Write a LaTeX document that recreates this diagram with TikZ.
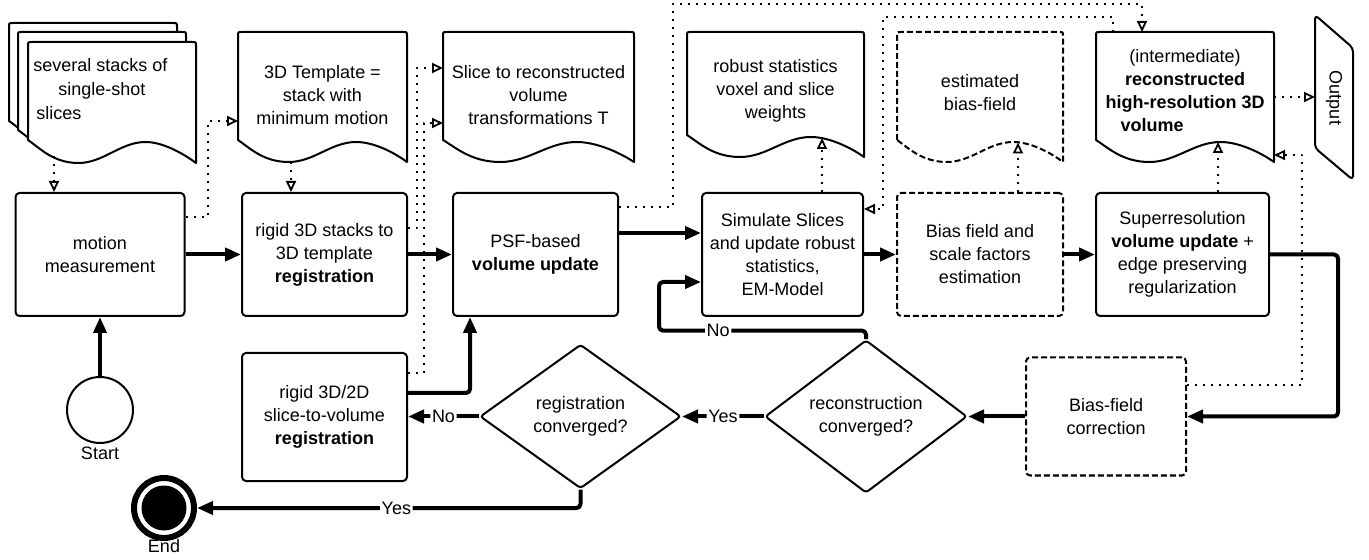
\documentclass[tikz,border=0pt]{standalone}
\usepackage{fontspec}
\setmainfont{Liberation Sans}
\usetikzlibrary{arrows.meta,shapes.geometric,calc}
% #1 options, #2 left, #3 top, #4 right, #5 bottom-left y, #6 bottom-right y
\newcommand\docshape[6][]{%
  \draw[docline,#1] (#2,#5) -- (#2,{#3+4}) .. controls (#2,#3) .. ({#2+4},#3)
    -- ({#4-4},#3) .. controls (#4,#3) .. (#4,{#3+4}) -- (#4,#6)
    .. controls ({#4-0.08*(#4-#2)},{#6-10}) and ({#2+0.8*(#4-#2)},{#5+2}) .. ({#2+0.7*(#4-#2)},{#5+2})
    .. controls ({#2+0.55*(#4-#2)},{#5+2}) and ({#2+0.45*(#4-#2)},#6) .. ({#2+0.3*(#4-#2)},#6)
    .. controls ({#2+0.15*(#4-#2)},#6) and ({#2+0.07*(#4-#2)},{#5+8}) .. (#2,#5) -- cycle;}
\begin{document}
\begin{tikzpicture}[x=0.5pt,y=-0.5pt,
  font=\fontsize{9}{11.5}\selectfont,
  line join=round,
  proc/.style={draw, line width=1pt, rounded corners=2pt, align=center, inner sep=1pt, fill=white},
  dproc/.style={proc, dash pattern=on 3pt off 1.5pt},
  dec/.style={diamond, draw, line width=1pt, rounded corners=1.5pt, align=center, inner sep=0pt},
  txt/.style={align=center, inner sep=0pt},
  ltxt/.style={anchor=base west, inner sep=0pt},
  thickarr/.style={line width=2pt, rounded corners=2pt, -{Triangle[length=8pt,width=6.5pt]}},
  dotarr/.style={line width=1pt, dash pattern=on 1pt off 3pt, -{Triangle[open,length=5.5pt,width=5pt,line width=0.9pt]}},
  lab/.style={fill=white, inner sep=0.8pt},
  docline/.style={draw, line width=1pt, fill=white}]
\useasboundingbox (0,0) rectangle (1369,560);

% ---------- documents ----------
\docshape{9}{23}{177}{121}{144}
\docshape{18}{32}{186}{130}{153}
\docshape{28}{42}{196}{140}{163}
\node[ltxt] (stk1) at (33,72) {several stacks of};
\node[ltxt] (stk2) at (58,96) {single-shot};
\node[ltxt] (stk3) at (36,120) {slices};

\docshape{238}{32}{407}{140}{162}
\node[txt] (tmplT) at (322.5,95.5) {3D Template =\\stack with\\minimum motion};

\docshape{443}{32}{634}{140}{162}
\node[txt] (slcT) at (538.5,95.5) {Slice to reconstructed\\volume\\transformations T};

\docshape{687}{32}{864}{135}{157}
\node[txt] (robT) at (775.5,90.5) {robust statistics\\voxel and slice\\weights};

\docshape[dash pattern=on 3pt off 1.5pt]{897}{32}{1063}{140}{162}
\node[txt] (estT) at (980,93) {estimated\\bias-field};

\docshape{1096}{32}{1274}{140}{162}
\node[txt] (recT) at (1185,90.5) {(intermediate)\\\textbf{reconstructed}\\\textbf{high-resolution 3D}\\\textbf{volume}\hspace*{33pt}};

% output
\node[txt, rotate=-90] (outp) at (1334,98) {Output};
\draw[line width=1pt, rounded corners=2pt] (1315,15) -- (1353,48) -- (1353,180) -- (1315,148) -- cycle;

% ---------- process boxes ----------
\node[proc, minimum width=84.5pt, minimum height=61.5pt] (motion) at (100,254.5) {motion\\measurement};
\node[proc, minimum width=82.5pt, minimum height=61.5pt] (reg) at (324.5,254.5) {rigid 3D stacks to\\3D template\\\textbf{registration}};
\node[proc, minimum width=82.5pt, minimum height=61.5pt] (psf) at (535.5,254.5) {PSF-based\\\textbf{volume update}};
\node[proc, minimum width=80.5pt, minimum height=61.5pt] (sim) at (782.5,254.5) {Simulate Slices\\and update robust\\statistics,\\EM-Model};
\node[dproc, minimum width=83pt, minimum height=61.5pt] (est) at (980,254.5) {Bias field and\\scale factors\\estimation};
\node[proc, minimum width=86.5pt, minimum height=61.5pt] (sup) at (1182.5,254.5) {Superresolution\\\textbf{volume update} +\\edge preserving\\regularization};

\node[proc, minimum width=82.5pt, minimum height=64pt] (rigid2) at (324.5,417) {rigid 3D/2D\\slice-to-volume\\\textbf{registration}};
\node[dproc, minimum width=80pt, minimum height=59pt] (bc) at (1106,416.5) {Bias-field\\correction};

\node[dec, minimum width=100.5pt, minimum height=72pt] (regcv) at (580.5,416.5) {registration\\converged?};
\node[dec, minimum width=101pt, minimum height=73pt] (reccv) at (866,416.5) {reconstruction\\converged?};

% start / end
\node[circle, draw, line width=1pt, minimum size=33pt, inner sep=0pt, fill=white] (start) at (100,410) {};
\node[anchor=north, inner sep=0pt] (startL) at (100,447) {Start};
\node[circle, draw, line width=3pt, minimum size=30pt, inner sep=0pt, fill=white] (end) at (164,508) {};
\fill (end.center) circle (11.25pt);
\node[anchor=north, inner sep=0pt] (endL) at (164,539) {End};

% ---------- coordinates for free ends ----------
\coordinate (stkB) at (54,156);
\coordinate (tmplIn) at (238,121);
\coordinate (tmplB) at (291,162);
\coordinate (slcIn1) at (443,68);
\coordinate (slcIn2) at (443,123);
\coordinate (recT1) at (1142,32);
\coordinate (recT2) at (1113,32);
\coordinate (robB) at (822,138);
\coordinate (estB) at (1018,142.5);
\coordinate (recB) at (1218,142);
\coordinate (recR) at (1274,97);
\coordinate (outL) at (1315,97);
\coordinate (recR2) at (1274,155);

% ---------- thick connectors ----------
\draw[thickarr] (start.north) -- (motion.south);
\draw[thickarr] (motion.east) -- (reg.west);
\draw[thickarr] (reg.east) -- (psf.west);
\draw[thickarr] ($(psf.east)+(0,-21.5)$) -- ($(sim.west)+(0,-21.5)$);
\draw[thickarr] (sim.east) -- (est.west);
\draw[thickarr] (est.east) -- (sup.west);
\draw[thickarr] (sup.east) -| ($(bc.east)+(151,0)$) -- (bc.east);
\draw[thickarr] (bc.west) -- (reccv.east);
\draw[thickarr] (reccv.west) -- node[lab] {Yes} (regcv.east);
\draw[thickarr] (reccv.north) -- ($(reccv.north)+(0,-8.5)$) -| node[lab, pos=0.357] {No} ($(sim.west)+(-42,27.5)$) -- ($(sim.west)+(0,27.5)$);
\draw[thickarr] (regcv.west) -- node[lab] {No} (regcv.west -| rigid2.east);
\draw[thickarr] ($(rigid2.east)+(0,-24)$) -| ($(psf.south)+(-65.5,0)$);
\draw[thickarr] (regcv.south) |- node[lab, pos=0.74] {Yes} (end.east);

% ---------- dotted connectors ----------
\draw[dotarr] (stkB) -- (stkB |- motion.north);
\draw[dotarr] ($(motion.east)+(0,-37.5)$) -| ($(tmplIn)+(-30,0)$) -- (tmplIn);
\draw[dotarr] (tmplB) -- (tmplB |- reg.north);
\draw[dotarr] ($(reg.east)+(0,-26.5)$) -| ($(slcIn1)+(-26,0)$) -- (slcIn1);
\draw[dotarr] ($(rigid2.east)+(0,-44)$) -| ($(slcIn2)+(-19,0)$) -- (slcIn2);
\draw[dotarr] ($(psf.east)+(0,-47.5)$) -| ($(psf.east)+(54,-250.5)$) -| (recT1);
\draw[dotarr] (recT2) |- ($(sim.east)+(19,-237.5)$) |- ($(sim.east)+(0,-45.5)$);
\draw[dotarr] (robB |- sim.north) -- (robB);
\draw[dotarr] (estB |- est.north) -- (estB);
\draw[dotarr] (recB |- sup.north) -- (recB);
\draw[dotarr] (recR) -- (outL);
\draw[dotarr] ($(bc.east)+(0,-31.5)$) -| ($(recR2)+(28,0)$) -- (recR2);
\end{tikzpicture}
\end{document}
